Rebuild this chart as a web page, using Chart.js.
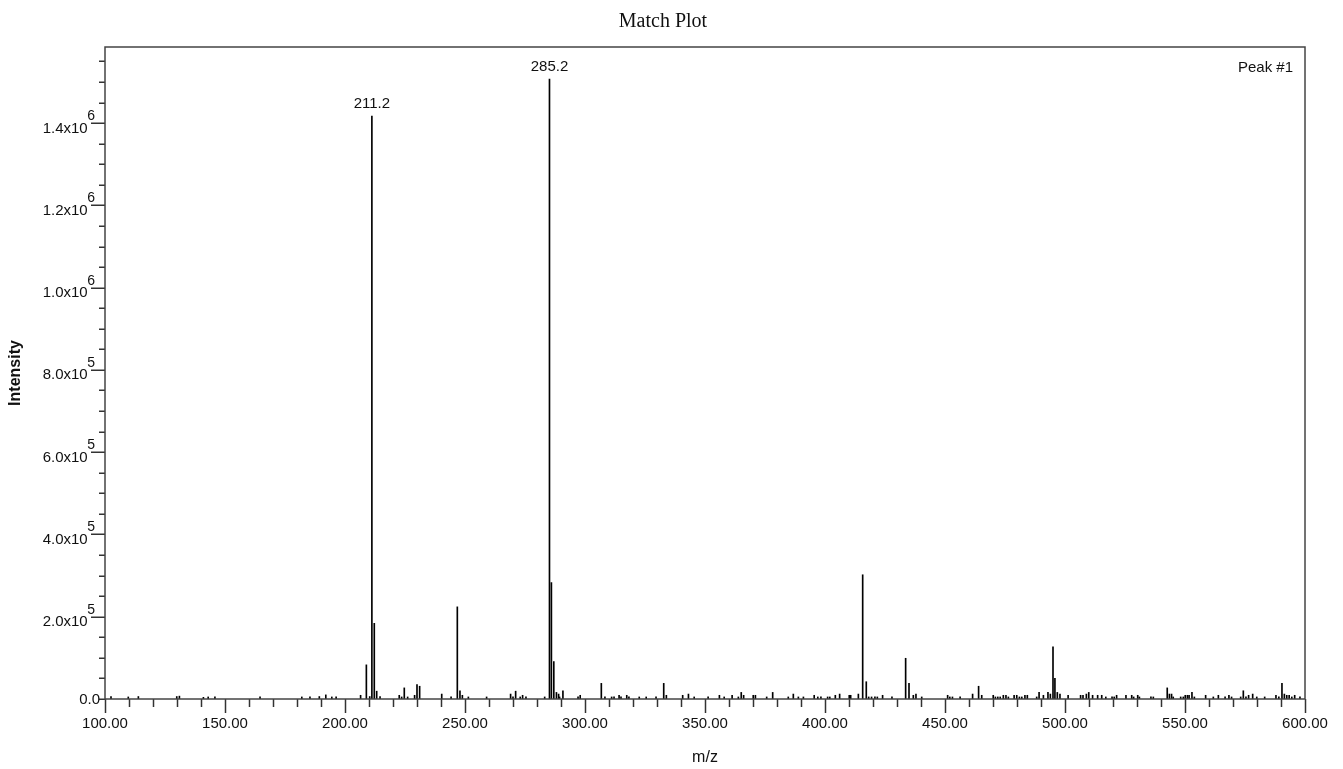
<!DOCTYPE html>
<html>
<head>
<meta charset="utf-8">
<script src="https://cdn.jsdelivr.net/npm/chart.js@4/dist/chart.umd.min.js"></script>
<style>
html,body{margin:0;padding:0;background:#fff;}
#wrap{width:1343px;height:769px;}
canvas{display:block;}
</style>
</head>
<body>
<div id="wrap"><canvas id="c" width="1343" height="769"></canvas></div>
<script>
// ---- data (m/z vs intensity) ----
const mzValues = [
 102.5,109.7,113.9,129.9,131.0,141.0,143.0,145.8,164.6,182.0,185.4,189.3,192.0,194.5,196.3,
 206.5,208.9,210.3,211.2,212.2,213.2,214.6,222.6,223.6,224.7,226.1,229.0,230.0,231.1,
 240.3,244.2,246.8,247.9,248.9,251.4,259.0,269.0,270.0,271.1,273.0,274.0,275.4,283.2,
 285.2,286.0,287.0,288.1,289.0,289.4,290.8,297.1,298.0,306.8,308.3,311.1,312.1,314.2,315.0,317.4,318.3,
 322.6,325.5,329.6,332.8,333.9,340.7,343.1,345.5,351.3,356.0,358.0,361.3,363.9,365.1,366.1,370.1,371.0,
 375.7,378.2,384.7,386.8,388.9,391.0,395.5,397.0,398.3,401.1,402.0,404.3,406.1,410.1,410.7,413.9,
 415.7,417.2,418.2,419.4,420.8,421.8,424.0,427.9,433.6,435.0,436.8,437.9,440.3,
 451.1,452.0,453.1,456.3,461.5,464.0,465.3,470.1,471.0,472.0,473.0,474.3,475.4,476.4,478.8,479.9,481.0,482.0,483.3,484.3,
 488.2,489.2,491.0,492.9,493.9,495.0,495.8,496.8,497.9,501.3,506.5,507.5,508.9,509.9,511.5,513.6,515.3,517.0,
 519.6,520.5,521.5,525.4,527.8,528.6,530.3,531.0,535.8,536.8,542.6,543.5,544.4,545.1,548.2,549.3,550.1,551.0,551.7,552.9,553.9,
 558.6,561.8,563.9,566.7,568.3,569.4,573.2,574.3,575.4,576.5,578.2,579.9,583.2,587.9,589.1,590.4,591.4,592.4,593.4,594.5,595.7,597.9
];
const intensityValues = [
 6000,5000,6000,6000,7000,4000,5000,5000,5000,5000,5000,6000,10000,5000,5000,
 9000,83000,6000,1417000,184000,19000,6000,9000,5000,27000,5000,9000,35000,31000,
 12000,5000,224000,20000,9000,5000,5000,12000,5000,19000,5000,9000,5000,5000,
 1507000,283000,91000,16000,12000,5000,20000,5000,9000,38000,5000,5000,5000,9000,5000,9000,5000,
 5000,5000,5000,38000,9000,9000,12000,5000,5000,9000,5000,9000,5000,16000,9000,9000,9000,
 5000,16000,5000,12000,5000,5000,9000,5000,5000,5000,5000,9000,12000,9000,9000,12000,
 302000,42000,5000,5000,5000,5000,9000,5000,99000,38000,9000,12000,5000,
 9000,5000,5000,5000,12000,31000,9000,9000,5000,5000,5000,9000,9000,5000,9000,9000,5000,5000,9000,9000,
 5000,16000,9000,16000,12000,127000,50000,16000,12000,9000,9000,9000,12000,16000,9000,9000,9000,5000,
 5000,5000,9000,9000,9000,5000,9000,5000,5000,5000,27000,12000,12000,5000,5000,5000,9000,9000,9000,16000,5000,
 9000,5000,9000,5000,9000,5000,5000,20000,5000,9000,12000,5000,5000,9000,5000,38000,12000,9000,9000,5000,9000,5000
];
// labelled peaks
const peakLabelMz = [211.2, 285.2];
const peakLabelTexts = ['211.2', '285.2'];
// y-axis tick labels (mantissa + exponent)
const yTickValues = [0, 200000, 400000, 600000, 800000, 1000000, 1200000, 1400000];
const yTickMantissas = ['0.0', '2.0x10', '4.0x10', '6.0x10', '8.0x10', '1.0x10', '1.2x10', '1.4x10'];
const yTickExponents = ['', '5', '5', '5', '5', '6', '6', '6'];
// axes ranges / steps
const xMin = 100, xMax = 600, xMinorStep = 10, xLabelStep = 50;
const yMax = 1585000, yMinorStep = 50000, yMajorStep = 200000;
const chartTitle = 'Match Plot';
const xTitle = 'm/z';
const yTitle = 'Intensity';
const cornerText = 'Peak #1';

// ---- styling ----
const TEXT = '#111';
const SANS = "'Liberation Sans', Arial, sans-serif";
const SERIF = "'Liberation Serif', 'Times New Roman', serif";

const points = mzValues.map((m, i) => ({x: m, y: intensityValues[i]}));
const isMultiple = (v, step) => Math.abs(v / step - Math.round(v / step)) < 1e-6;

const overlay = {
  id: 'overlay',
  afterDraw(chart) {
    const {ctx, chartArea: a, scales: {x, y}} = chart;
    ctx.save();
    // chart title
    ctx.fillStyle = TEXT;
    ctx.textAlign = 'center';
    ctx.textBaseline = 'alphabetic';
    ctx.font = "20px " + SERIF;
    ctx.fillText(chartTitle, 663, 26.5);
    // y tick marks placed through the y scale
    ctx.strokeStyle = '#333';
    ctx.lineWidth = 1.5;
    for (let k = 0; k * yMinorStep < y.max; k++) {
      const v = k * yMinorStep;
      const py = Math.round(y.getPixelForValue(v)) + 0.25;
      const major = v > 0 && isMultiple(v, yMajorStep);
      const len = major ? 14 : 6;
      ctx.beginPath();
      ctx.moveTo(a.left, py);
      ctx.lineTo(a.left - len, py);
      ctx.stroke();
    }
    // plot frame
    ctx.strokeStyle = '#444';
    ctx.lineWidth = 1.5;
    ctx.strokeRect(a.left, a.top, a.right - a.left, a.bottom - a.top);
    // y tick labels with superscript exponents
    ctx.textAlign = 'right';
    yTickValues.forEach((v, i) => {
      const py = y.getPixelForValue(v);
      const exp = yTickExponents[i];
      if (exp) {
        let right = a.left - 10;
        ctx.font = "14px " + SANS;
        ctx.fillText(exp, right, py - 3);
        right -= ctx.measureText(exp).width - 0.5;
        ctx.font = "15px " + SANS;
        ctx.fillText(yTickMantissas[i], right, py + 9.5);
      } else {
        ctx.font = "15px " + SANS;
        ctx.fillText(yTickMantissas[i], a.left - 5, py + 5);
      }
    });
    // peak annotations
    ctx.textAlign = 'center';
    ctx.font = "15px " + SANS;
    peakLabelMz.forEach((m, i) => {
      const idx = mzValues.indexOf(m);
      const px = x.getPixelForValue(m);
      const py = y.getPixelForValue(intensityValues[idx]);
      ctx.fillText(peakLabelTexts[i], px, py - 8);
    });
    // corner text
    ctx.textAlign = 'right';
    ctx.fillText(cornerText, a.right - 12, a.top + 25);
    ctx.restore();
  }
};

new Chart(document.getElementById('c'), {
  type: 'bar',
  data: {
    datasets: [{
      data: points,
      backgroundColor: '#000',
      borderWidth: 0,
      barThickness: 1,
    }]
  },
  options: {
    responsive: false,
    animation: false,
    devicePixelRatio: 1,
    layout: {padding: {left: 0, right: 38, top: 47, bottom: 0}},
    plugins: {
      legend: {display: false},
      tooltip: {enabled: false},
      title: {display: false}
    },
    scales: {
      x: {
        type: 'linear',
        min: xMin,
        max: xMax,
        offset: false,
        border: {display: false},
        grid: {
          offset: false,
          drawOnChartArea: false,
          drawTicks: true,
          tickLength: 14,
          tickColor: '#333',
          tickWidth: 1.5,
          tickBorderDash: (c) => (c.tick && isMultiple(c.tick.value, xLabelStep)) ? [] : [8, 100]
        },
        ticks: {
          stepSize: xMinorStep,
          autoSkip: false,
          maxRotation: 0,
          minRotation: 0,
          padding: 2,
          color: TEXT,
          font: {family: SANS, size: 15},
          callback: (v) => isMultiple(v, xLabelStep) ? Number(v).toFixed(2) : ''
        },
        title: {
          display: true,
          text: xTitle,
          color: TEXT,
          font: {family: SANS, size: 16},
          padding: {top: 0, bottom: 2}
        },
        afterFit: (s) => { s.height = 70; s.paddingLeft = 0; s.paddingRight = 0; }
      },
      y: {
        min: 0,
        max: yMax,
        border: {display: false},
        grid: {display: false},
        ticks: {
          display: false,
          stepSize: yMinorStep
        },
        title: {
          display: true,
          text: yTitle,
          color: TEXT,
          font: {family: SANS, size: 16, weight: 'bold'},
          padding: {top: 6, bottom: 0}
        },
        afterFit: (s) => { s.width = 105; s.paddingTop = 0; s.paddingBottom = 0; }
      }
    }
  },
  plugins: [overlay]
});
</script>
</body>
</html>
